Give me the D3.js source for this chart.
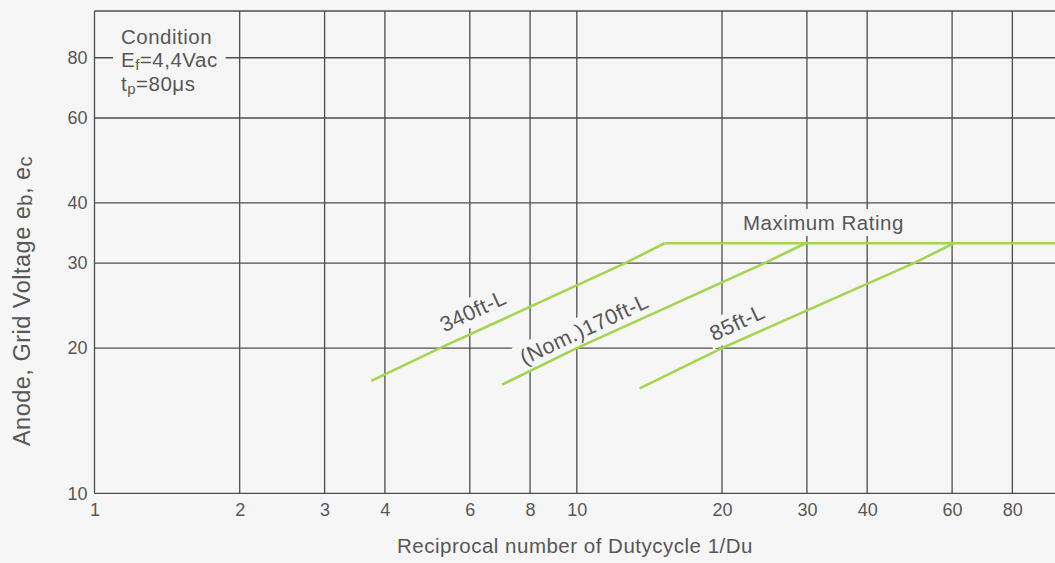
<!DOCTYPE html>
<html>
<head>
<meta charset="utf-8">
<script src="https://cdn.jsdelivr.net/npm/d3@7"></script>
<style>
  html, body { margin: 0; padding: 0; background: #f6f6f6; }
  svg { display: block; }
  text { font-family: "Liberation Sans", Arial, Helvetica, sans-serif; fill: #575757; }
</style>
</head>
<body>
<svg id="chart" width="1055" height="563"></svg>
<script>
// ---- data -------------------------------------------------------------
const xGrid = [1, 2, 3, 4, 6, 8, 10, 20, 30, 40, 60, 80, 100];
const yGrid = [10, 20, 30, 40, 60, 80, 100];
const xTickLabels = [1, 2, 3, 4, 6, 8, 10, 20, 30, 40, 60, 80];
const yTickLabels = [10, 20, 30, 40, 60, 80];

// brightness curves: [1/Du, anode/grid voltage]
const curveNames = ["340ft-L", "(Nom.)170ft-L", "85ft-L"];
const curve340 = [[3.75, 17.1], [5.2, 20], [12.6, 30], [15.2, 33]];
const curve170 = [[7.0, 16.8], [10, 20], [24.5, 30], [29.8, 33]];
const curve85  = [[13.5, 16.5], [20, 20], [50, 30], [60.5, 33]];
// maximum rating limit
const maxRating = [[15.2, 33], [100, 33]];

// ---- layout -----------------------------------------------------------
const svg = d3.select("#chart");
const decade = 482.3;
const left = 94.5, bottom = 493.3;

const x = d3.scaleLog().domain([1, 100]).range([left, left + 2 * decade]);
const y = d3.scaleLog().domain([10, 100]).range([bottom, bottom - decade]);

const gridColor = "#4d4d4d";
const green = "#a4d550";
const bg = "#f6f6f6";
const fontFamily = '"Liberation Sans", Arial, Helvetica, sans-serif';

const gGrid = svg.append("g");
const gMask = svg.append("g");
const gCurves = svg.append("g");
const gText = svg.append("g").attr("letter-spacing", 0.5);

// grid lines
gGrid.selectAll("line.v").data(xGrid).join("line")
  .attr("x1", d => x(d)).attr("x2", d => x(d))
  .attr("y1", y(100)).attr("y2", y(10))
  .attr("stroke", gridColor).attr("stroke-width", 1.3);
gGrid.selectAll("line.h").data(yGrid).join("line")
  .attr("y1", d => y(d)).attr("y2", d => y(d))
  .attr("x1", x(1)).attr("x2", x(100))
  .attr("stroke", gridColor).attr("stroke-width", 1.3);

// axes (labels only)
const xAxis = d3.axisBottom(x).tickValues(xTickLabels).tickFormat(d3.format("d"))
  .tickSize(0).tickPadding(10);
const yAxis = d3.axisLeft(y).tickValues(yTickLabels).tickFormat(d3.format("d"))
  .tickSize(0).tickPadding(7);

const gx = svg.append("g").attr("transform", `translate(0,${bottom})`).call(xAxis);
const gy = svg.append("g").attr("transform", `translate(${left},0)`).call(yAxis);
[gx, gy].forEach(g => {
  g.select(".domain").remove();
  g.selectAll("text").attr("font-size", 18).attr("fill", "#575757")
    .attr("font-family", fontFamily);
});

// axis titles
gText.append("text")
  .attr("x", 575).attr("y", 553)
  .attr("text-anchor", "middle").attr("font-size", 20.5)
  .text("Reciprocal number of Dutycycle 1/Du");

const yt = gText.append("text")
  .attr("transform", "translate(30,301) rotate(-90)")
  .attr("text-anchor", "middle").attr("font-size", 23.5);
yt.append("tspan").text("Anode, Grid Voltage e");
yt.append("tspan").text("b").attr("font-size", 20).attr("dy", 2);
yt.append("tspan").text(", e").attr("dy", -2);
yt.append("tspan").text("c").attr("font-size", 20).attr("dy", 2);

// helper: knock the grid out behind a text element
function knockout(textSel, transform, pad) {
  const b = textSel.node().getBBox();
  gMask.append("rect")
    .attr("transform", transform)
    .attr("x", b.x - pad).attr("y", b.y - pad + 2)
    .attr("width", b.width + 2 * pad).attr("height", b.height + 2 * pad - 4)
    .attr("fill", bg);
}

// condition block
const cond = gText.append("g");
cond.append("text").attr("x", 121).attr("y", 43.5).attr("font-size", 20.5).text("Condition");
const ef = cond.append("text").attr("x", 121).attr("y", 67).attr("font-size", 20.5);
ef.append("tspan").text("E");
ef.append("tspan").text("f").attr("font-size", 15).attr("dy", 3);
ef.append("tspan").text("=4,4Vac").attr("dy", -3);
const tp = cond.append("text").attr("x", 121).attr("y", 91).attr("font-size", 20.5);
tp.append("tspan").text("t");
tp.append("tspan").text("p").attr("font-size", 15).attr("dy", 3);
tp.append("tspan").text("=80μs").attr("dy", -3);
{
  const b = cond.node().getBBox();
  gMask.append("rect")
    .attr("x", b.x - 8).attr("y", b.y - 3)
    .attr("width", b.width + 16).attr("height", b.height + 6)
    .attr("fill", bg);
}

// curves
const line = d3.line().x(d => x(d[0])).y(d => y(d[1]));
[curve340, curve170, curve85, maxRating].forEach(c => {
  gCurves.append("path").datum(c)
    .attr("d", line)
    .attr("fill", "none")
    .attr("stroke", green)
    .attr("stroke-width", 2.6)
    .attr("stroke-linejoin", "round");
});

// curve labels, rotated along the lines
const labelAnchors = [[6.09, 23.9], [10.35, 21.9], [21.5, 22.6]];
curveNames.forEach((name, i) => {
  const [lx, ly] = labelAnchors[i];
  const tr = `translate(${x(lx)},${y(ly)}) rotate(-25)`;
  const t = gText.append("text")
    .attr("transform", tr)
    .attr("text-anchor", "middle")
    .attr("dy", "0.35em")
    .attr("font-size", 21.5)
    .text(name);
  knockout(t, tr, 4);
});

// maximum rating label
const mr = gText.append("text")
  .attr("x", 743).attr("y", 230)
  .attr("font-size", 20.5)
  .text("Maximum Rating");
knockout(mr, null, 4);
</script>
</body>
</html>
